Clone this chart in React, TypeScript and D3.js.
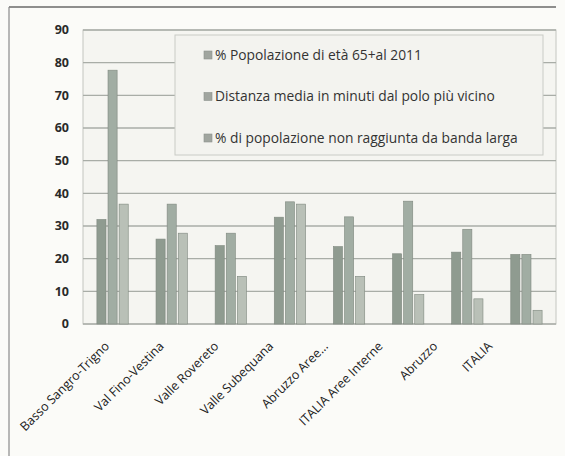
import React from "react";
import * as d3 from "d3";

const categories = [
  "Basso Sangro-Trigno",
  "Val Fino-Vestina",
  "Valle Rovereto",
  "Valle Subequana",
  "Abruzzo Aree...",
  "ITALIA Aree Interne",
  "Abruzzo",
  "ITALIA",
];
const seriesNames = [
  "% Popolazione di età 65+al 2011",
  "Distanza media in minuti dal polo più vicino",
  "% di popolazione non raggiunta da banda larga",
];
const pop65 = [32, 26, 24, 32.7, 23.7, 21.5, 22, 21.3];
const distanza = [77.7, 36.7, 27.8, 37.4, 32.8, 37.6, 29, 21.3];
const bandaLarga = [36.7, 27.8, 14.6, 36.7, 14.6, 9, 7.7, 4.2];
const yTicks = [0, 10, 20, 30, 40, 50, 60, 70, 80, 90];
const seriesColors = ["#8f9b90", "#a1ada3", "#b9c0b7"];

const W = 565;
const H = 456;
const plot = { left: 83, right: 556, top: 30, bottom: 324 };

export default function App() {
  const series = [pop65, distanza, bandaLarga];
  const y = d3.scaleLinear().domain([0, 90]).range([plot.bottom, plot.top]);
  const x = d3
    .scaleBand<string>()
    .domain(categories)
    .range([plot.left, plot.right])
    .paddingInner(0.47)
    .paddingOuter(0.235);
  const xs = d3
    .scaleBand<number>()
    .domain([0, 1, 2])
    .range([0, x.bandwidth()])
    .paddingInner(0.18);
  const xl = d3.scalePoint<string>().domain(categories).range([110, 493]);
  const font = "'Open Sans', 'Liberation Sans', Arial, sans-serif";

  return (
    <svg
      width={W}
      height={H}
      style={{ position: "absolute", left: 0, top: 0, background: "#fbfbf8" }}
    >
      <line x1={9} y1={7} x2={556} y2={7} stroke="#6a6a6a" strokeWidth={1.5} />
      <line x1={9} y1={7} x2={9} y2={456} stroke="#8a8a8a" strokeWidth={1.2} />
      <rect
        x={plot.left}
        y={plot.top}
        width={plot.right - plot.left}
        height={plot.bottom - plot.top}
        fill="#f5f5f1"
        stroke="#c4c6c0"
      />
      {yTicks.map((t) => (
        <g key={t}>
          <line
            x1={plot.left}
            x2={plot.right}
            y1={y(t)}
            y2={y(t)}
            stroke="#a9ada7"
            strokeWidth={1.4}
          />
          <text
            x={69}
            y={y(t)}
            dy="0.35em"
            textAnchor="end"
            fontFamily={font}
            fontSize={12.5}
            fontWeight="bold"
            fill="#2a2a2a"
          >
            {t}
          </text>
        </g>
      ))}
      {categories.map((c, i) => (
        <g key={c}>
          {series.map((s, k) => (
            <rect
              key={k}
              x={(x(c) as number) + (xs(k) as number)}
              y={y(s[i])}
              width={xs.bandwidth()}
              height={y(0) - y(s[i])}
              fill={seriesColors[k]}
              stroke="#7f887f"
              strokeWidth={0.6}
            />
          ))}
          <text
            transform={`translate(${xl(c)},${347}) rotate(-45)`}
            textAnchor="end"
            fontFamily={font}
            fontSize={12.5}
            fill="#222"
          >
            {c}
          </text>
        </g>
      ))}
      <rect x={175} y={35} width={368} height={120} fill="#f3f3ef" stroke="#c9cbc6" />
      {seriesNames.map((n, k) => (
        <g key={n}>
          <rect
            x={204}
            y={51 + k * 41.5}
            width={8}
            height={8}
            fill="#a0a59f"
            stroke="#8d928c"
            strokeWidth={0.6}
          />
          <text
            x={215}
            y={55 + k * 41.5}
            dy="0.35em"
            fontFamily={font}
            fontSize={13.8}
            fill="#333"
          >
            {n}
          </text>
        </g>
      ))}
    </svg>
  );
}
